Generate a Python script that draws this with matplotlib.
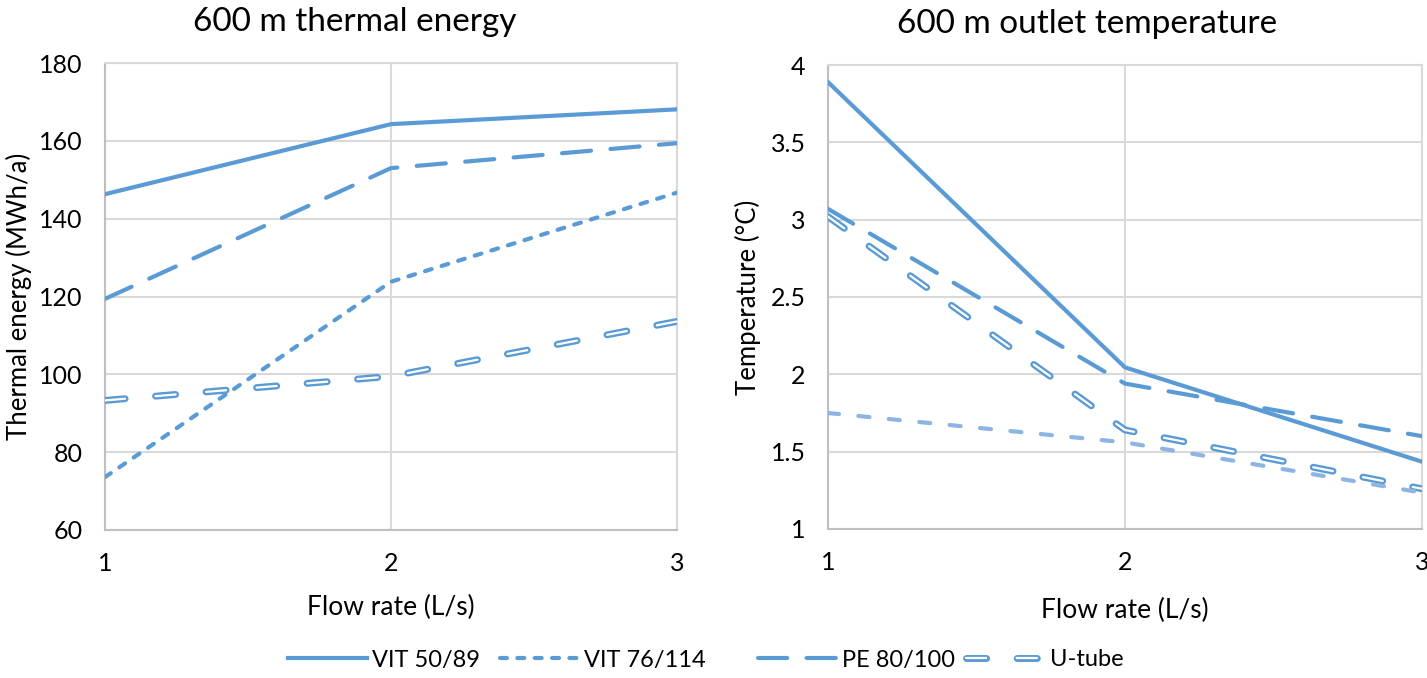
import matplotlib
matplotlib.use("Agg")
import matplotlib.pyplot as plt

plt.rcParams['font.family'] = ['Lato', 'DejaVu Sans']
plt.rcParams['lines.scale_dashes'] = False

# datos
caudal = [1, 2, 3]
series = ["VIT 50/89", "VIT 76/114", "PE 80/100", "U-tube"]

energia_vit50 = [146.3, 164.3, 168.1]
energia_vit76 = [73.6, 123.8, 146.7]
energia_pe = [119.4, 153.0, 159.4]
energia_utube = [93.3, 99.5, 113.6]

temp_vit50 = [3.89, 2.045, 1.435]
temp_vit76 = [1.75, 1.56, 1.235]
temp_pe = [3.07, 1.94, 1.60]
temp_utube = [3.02, 1.64, 1.26]

azul = "#5B9BD5"
azul_claro = "#8DB4E2"
gris = "#D9D9D9"

fig = plt.figure(figsize=(14.27, 6.78), dpi=100)
ax1 = fig.add_axes([0.0736, 0.2183, 0.4008, 0.6887])
ax2 = fig.add_axes([0.5802, 0.2198, 0.4163, 0.6843])


def linea_doble(ax, x, y):
    # linea "doble" tipo Excel: trazo grueso azul con trazo blanco encima
    a, = ax.plot(x, y, color=azul, lw=5, dashes=(14.5, 22), dash_capstyle='round',
                 solid_capstyle='round', zorder=3)
    b, = ax.plot(x, y, color="white", lw=1.6, dashes=(14.5, 22), dash_capstyle='round',
                 solid_capstyle='round', zorder=4)
    return (a, b)


def estilo(ax, ymin, ymax, paso, titulo, etiqueta_y, pad_y, pad_x):
    ax.set_xlim(1, 3)
    ax.set_ylim(ymin, ymax)
    ax.set_xticks(caudal)
    yt = []
    v = ymin
    while v <= ymax + 1e-9:
        yt.append(round(v, 2))
        v += paso
    ax.set_yticks(yt)
    ax.set_yticklabels([f"{t:g}" for t in yt])
    ax.grid(True, color=gris, lw=1.5, zorder=0)
    for s in ax.spines.values():
        s.set_color(gris)
        s.set_linewidth(1.5)
    ax.spines['left'].set_color("#BFBFBF")
    ax.spines['bottom'].set_color("#BFBFBF")
    ax.tick_params(length=0, labelsize=18, pad=16)
    ax.set_title(titulo, fontsize=24, pad=23, x=0.437)
    ax.set_xlabel("Flow rate (L/s)", fontsize=19, labelpad=pad_x)
    ax.set_ylabel(etiqueta_y, fontsize=18.5, labelpad=pad_y)


# grafico de energia
l1, = ax1.plot(caudal, energia_vit50, color=azul, lw=3, zorder=5)
l2, = ax1.plot(caudal, energia_vit76, color=azul, lw=3, dashes=(5, 7.5), dash_capstyle='round', zorder=5)
l3, = ax1.plot(caudal, energia_pe, color=azul, lw=3, dashes=(21, 14), dash_capstyle='round', zorder=5)
l4 = linea_doble(ax1, caudal, energia_utube)
estilo(ax1, 60, 180, 20, "600 m thermal energy", "Thermal energy (MWh/a)", 5, 14)

# grafico de temperatura
ax2.plot(caudal, temp_vit50, color=azul, lw=3, zorder=5)
ax2.plot(caudal, temp_vit76, color=azul_claro, lw=3, dashes=(8, 14), dash_capstyle='round', zorder=5)
ax2.plot(caudal, temp_pe, color=azul, lw=3, dashes=(21, 14), dash_capstyle='round', zorder=5)
linea_doble(ax2, caudal, temp_utube)
estilo(ax2, 1, 4, 0.5, "600 m outlet temperature", "Temperature (°C)", 7, 17)

# leyenda: una entrada por caja para imitar el espaciado de Excel
inicio_x = [288, 500, 758, 966]
for h, nombre, x0 in zip([l1, l2, l3, l4], series, inicio_x):
    fig.legend([h], [nombre], loc='center left', bbox_to_anchor=(x0 / 1427, 1 - 660 / 678),
               frameon=False, borderpad=0, borderaxespad=0, fontsize=17,
               handlelength=3.35, handletextpad=0.2)

fig.savefig("out.png", dpi=100)
